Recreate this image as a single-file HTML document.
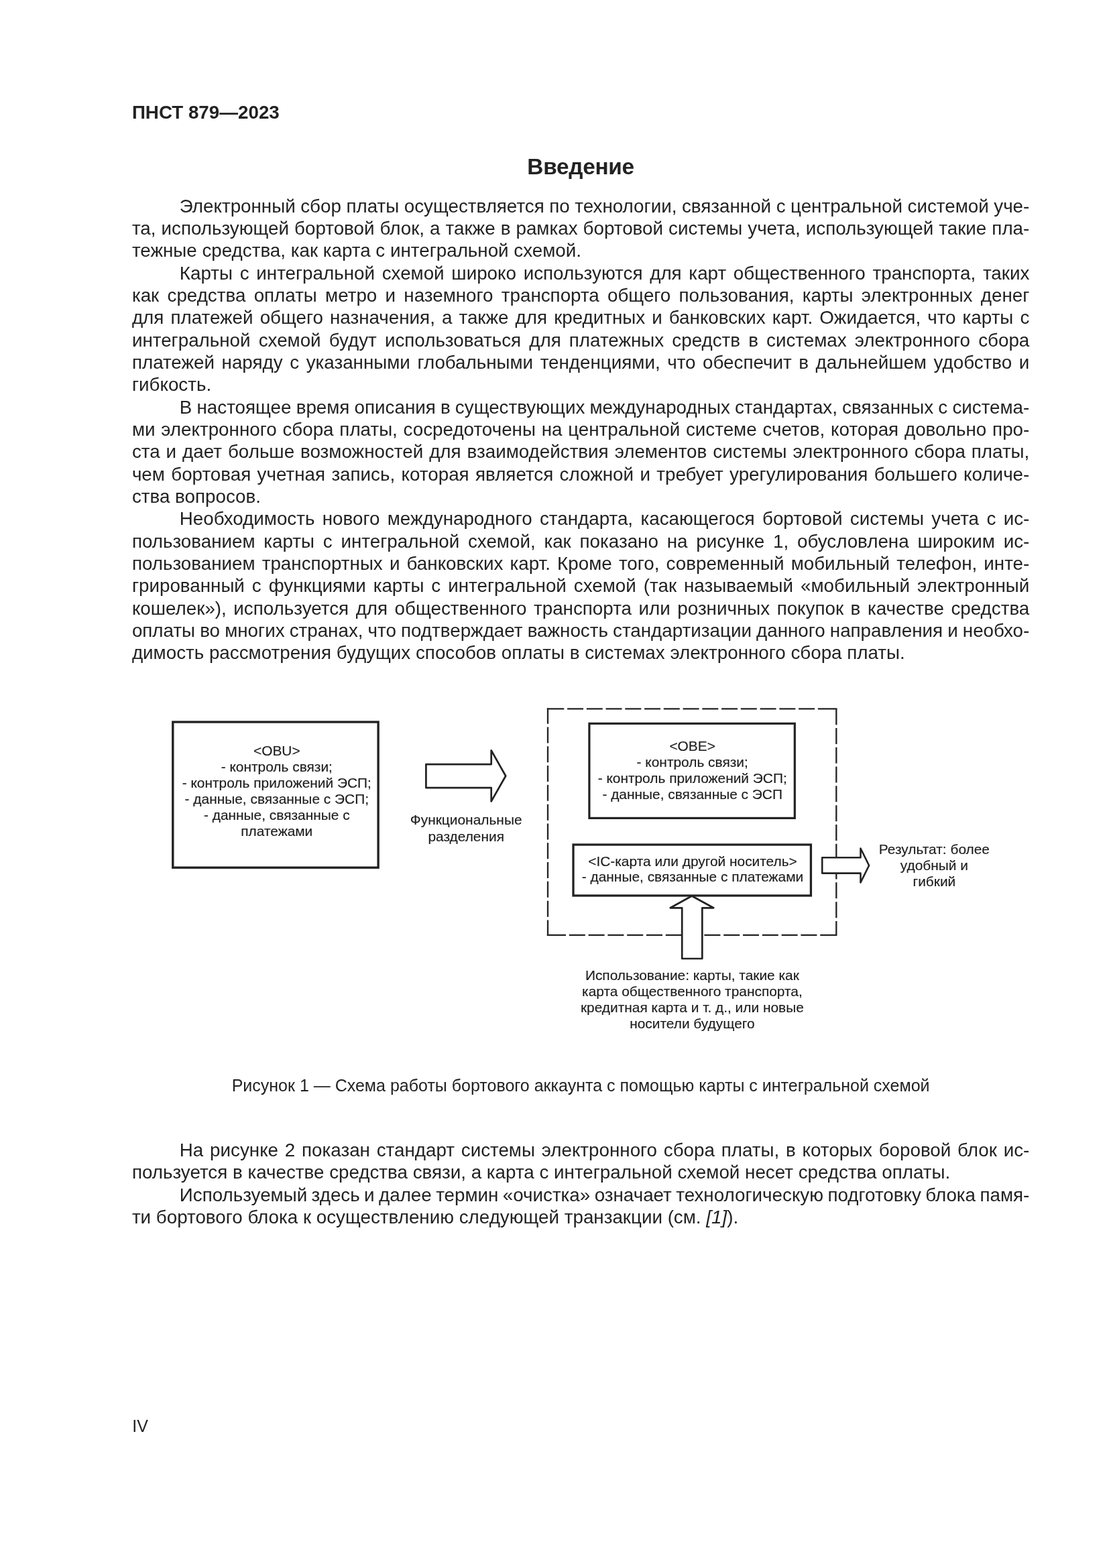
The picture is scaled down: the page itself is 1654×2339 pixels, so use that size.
<!DOCTYPE html>
<html lang="ru">
<head>
<meta charset="utf-8">
<title>ПНСТ 879—2023 — Введение</title>
<style>
html,body{margin:0;padding:0;background:#fff;}
body{width:1654px;height:2339px;overflow:hidden;}
.page{position:relative;width:1654px;height:2339px;color:#222;will-change:transform;
 font-family:"Liberation Sans",sans-serif;font-size:27.78px;line-height:33.333px;overflow:hidden;}
.page p,.page h1,.page header,.page footer,.page figure,.page figcaption{margin:0;padding:0;}
.ln,.abs{position:absolute;white-space:nowrap;display:block;}
.hdr{font-weight:bold;}
h1.abs{font-size:33.33px;font-weight:bold;letter-spacing:-0.25px;line-height:40px;text-align:center;left:196.9px;width:1338.4px;}
figcaption.abs{font-size:25px;line-height:30px;text-align:center;left:196.9px;width:1338.4px;}
svg{position:absolute;left:0;top:0;}
svg text{font-family:"Liberation Sans",sans-serif;font-size:20.9px;fill:#1c1c1c;stroke:#1c1c1c;stroke-width:0.15px;text-anchor:middle;}
svg .s{fill:none;stroke:#222;}
svg .w{fill:#fff;stroke:#222;}
</style>
</head>
<body>
<div class="page">
<header class="abs hdr" style="left:196.9px;top:150.50px">ПНСТ 879—2023</header>
<h1 class="abs" style="top:228.85px">Введение</h1>
<p>
<span class="ln" style="left:267.80px;top:290.70px;word-spacing:-0.163px">Электронный сбор платы осуществляется по технологии, связанной с центральной системой уче-</span>
<span class="ln" style="left:196.90px;top:324.03px;word-spacing:0.342px">та, использующей бортовой блок, а также в рамках бортовой системы учета, использующей такие пла-</span>
<span class="ln" style="left:196.90px;top:357.37px">тежные средства, как карта с интегральной схемой.</span>
</p>
<p>
<span class="ln" style="left:267.80px;top:390.70px;word-spacing:3.030px">Карты с интегральной схемой широко используются для карт общественного транспорта, таких</span>
<span class="ln" style="left:196.90px;top:424.03px;word-spacing:4.561px">как средства оплаты метро и наземного транспорта общего пользования, карты электронных денег</span>
<span class="ln" style="left:196.90px;top:457.36px;word-spacing:2.379px">для платежей общего назначения, а также для кредитных и банковских карт. Ожидается, что карты с</span>
<span class="ln" style="left:196.90px;top:490.70px;word-spacing:4.423px">интегральной схемой будут использоваться для платежных средств в системах электронного сбора</span>
<span class="ln" style="left:196.90px;top:524.03px;word-spacing:2.857px">платежей наряду с указанными глобальными тенденциями, что обеспечит в дальнейшем удобство и</span>
<span class="ln" style="left:196.90px;top:557.36px">гибкость.</span>
</p>
<p>
<span class="ln" style="left:267.80px;top:590.70px;word-spacing:-0.534px">В настоящее время описания в существующих международных стандартах, связанных с система-</span>
<span class="ln" style="left:196.90px;top:624.03px;word-spacing:1.090px">ми электронного сбора платы, сосредоточены на центральной системе счетов, которая довольно про-</span>
<span class="ln" style="left:196.90px;top:657.36px;word-spacing:1.268px">ста и дает больше возможностей для взаимодействия элементов системы электронного сбора платы,</span>
<span class="ln" style="left:196.90px;top:690.70px;word-spacing:1.674px">чем бортовая учетная запись, которая является сложной и требует урегулирования большего количе-</span>
<span class="ln" style="left:196.90px;top:724.03px">ства вопросов.</span>
</p>
<p>
<span class="ln" style="left:267.80px;top:757.36px;word-spacing:3.649px">Необходимость нового международного стандарта, касающегося бортовой системы учета с ис-</span>
<span class="ln" style="left:196.90px;top:790.69px;word-spacing:5.084px">пользованием карты с интегральной схемой, как показано на рисунке 1, обусловлена широким ис-</span>
<span class="ln" style="left:196.90px;top:824.03px;word-spacing:2.460px">пользованием транспортных и банковских карт. Кроме того, современный мобильный телефон, инте-</span>
<span class="ln" style="left:196.90px;top:857.36px;word-spacing:3.276px">грированный с функциями карты с интегральной схемой (так называемый «мобильный электронный</span>
<span class="ln" style="left:196.90px;top:890.69px;word-spacing:2.831px">кошелек»), используется для общественного транспорта или розничных покупок в качестве средства</span>
<span class="ln" style="left:196.90px;top:924.03px;word-spacing:-0.618px">оплаты во многих странах, что подтверждает важность стандартизации данного направления и необхо-</span>
<span class="ln" style="left:196.90px;top:957.36px">димость рассмотрения будущих способов оплаты в системах электронного сбора платы.</span>
</p>
<figure>
<svg width="1654" height="2339" viewBox="0 0 1654 2339" role="img" aria-label="Рисунок 1">
<!-- OBU box -->
<rect class="s" x="257.8" y="1077" width="306.3" height="217.2" stroke-width="3.4"/>
<text x="412.8" y="1127">&lt;OBU&gt;</text>
<text x="412.8" y="1151">- контроль связи;</text>
<text x="412.8" y="1175">- контроль приложений ЭСП;</text>
<text x="412.8" y="1199">- данные, связанные с ЭСП;</text>
<text x="412.8" y="1223">- данные, связанные с</text>
<text x="412.8" y="1247">платежами</text>
<!-- arrow 1 -->
<path class="s" stroke-width="2.7" stroke-linejoin="round" d="M635.4 1140.1H732.7V1119.4L754.2 1157.5L732.7 1195.4V1175.2H635.4Z"/>
<text x="695.2" y="1230.4">Функциональные</text>
<text x="695.2" y="1254.5">разделения</text>
<!-- dashed frame -->
<g class="s" stroke-width="2.3">
<path d="M817.3 1057.3H1248.45" stroke-dasharray="24 4.75"/>
<path d="M817 1056.15V1395.95" stroke-dasharray="24 4.8" stroke-dashoffset="0.5"/>
<path d="M1247.3 1056.15V1395.95" stroke-dasharray="24 4.8" stroke-dashoffset="-1"/>
<path d="M820 1394.8H1248.45" stroke-dasharray="24 4.8"/>
<path d="M815.85 1057.3H818M1243 1057.3H1248.45M815.85 1394.8H821"/>
</g>
<!-- OBE box -->
<rect class="s" x="878.9" y="1079.3" width="306.4" height="141.1" stroke-width="3.2"/>
<text x="1032.7" y="1119.6">&lt;OBE&gt;</text>
<text x="1032.7" y="1144.2">- контроль связи;</text>
<text x="1032.7" y="1168.4">- контроль приложений ЭСП;</text>
<text x="1032.7" y="1192.2">- данные, связанные с ЭСП</text>
<!-- up arrow -->
<path class="w" stroke-width="2.7" stroke-linejoin="round" d="M1017.2 1430H1047.3V1354.3H1064.2L1031.8 1336.5L999.8 1354.3H1017.2Z"/>
<!-- IC box -->
<rect class="s" x="855" y="1260" width="354.4" height="76" stroke-width="3.3"/>
<text x="1033" y="1292.4">&lt;IC-карта или другой носитель&gt;</text>
<text x="1033" y="1315">- данные, связанные с платежами</text>
<!-- right arrow -->
<path class="w" stroke-width="2.6" stroke-linejoin="round" d="M1226.2 1279.3H1283.5V1265.5L1296.1 1291L1283.5 1316.5V1302.6H1226.2Z"/>
<text x="1393.4" y="1274.3">Результат: более</text>
<text x="1393.4" y="1297.9">удобный и</text>
<text x="1393.4" y="1321.8">гибкий</text>
<text x="1032.4" y="1462">Использование: карты, такие как</text>
<text x="1032.4" y="1486">карта общественного транспорта,</text>
<text x="1032.4" y="1510">кредитная карта и т. д., или новые</text>
<text x="1032.4" y="1534">носители будущего</text>
</svg>
<figcaption class="abs" style="top:1603.84px">Рисунок 1 — Схема работы бортового аккаунта с помощью карты с интегральной схемой</figcaption>
</figure>
<p>
<span class="ln" style="left:267.80px;top:1698.90px;word-spacing:2.073px">На рисунке 2 показан стандарт системы электронного сбора платы, в которых боровой блок ис-</span>
<span class="ln" style="left:196.90px;top:1732.23px">пользуется в качестве средства связи, а карта с интегральной схемой несет средства оплаты.</span>
</p>
<p>
<span class="ln" style="left:267.80px;top:1765.57px;word-spacing:-1.308px">Используемый здесь и далее термин «очистка» означает технологическую подготовку блока памя-</span>
<span class="ln" style="left:196.90px;top:1798.90px">ти бортового блока к осуществлению следующей транзакции (см. <i>[1]</i>).</span>
</p>
<footer class="abs" style="left:197.2px;top:2112.14px;font-size:25px;line-height:30px">IV</footer>
</div>
</body>
</html>
